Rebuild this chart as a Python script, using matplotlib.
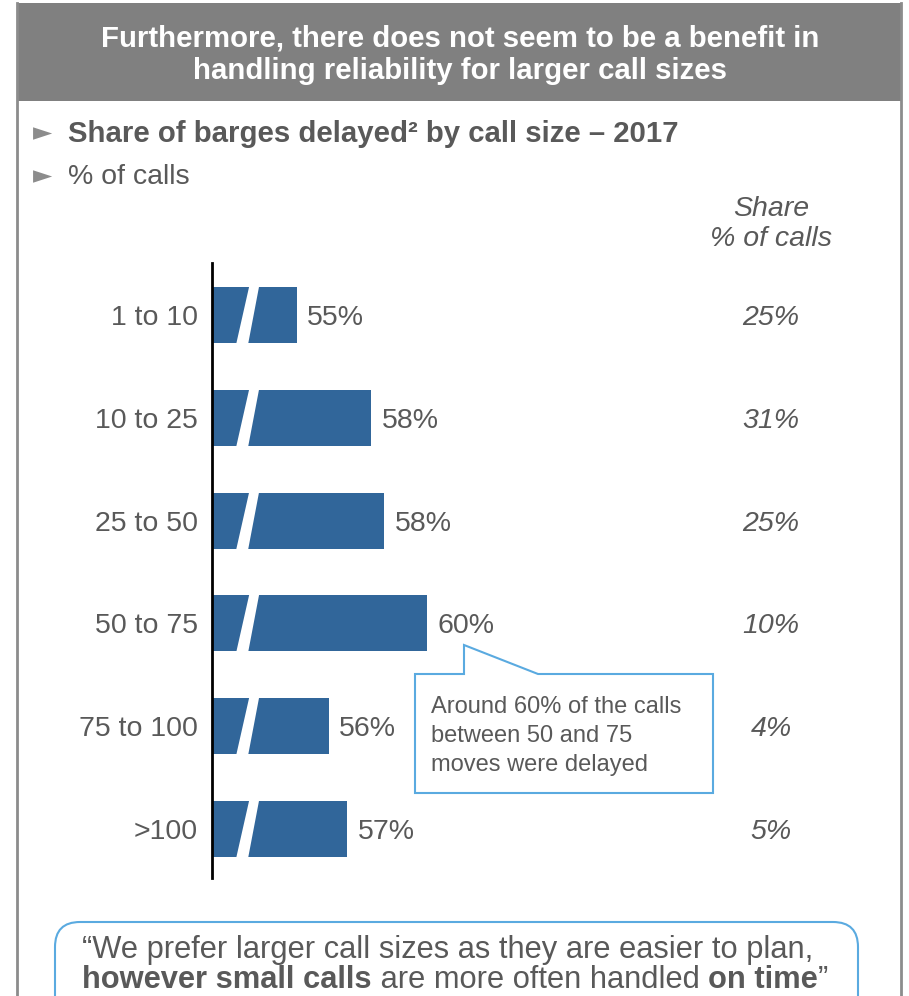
import matplotlib
matplotlib.use("Agg")
import matplotlib.pyplot as plt
from matplotlib.patches import Rectangle, Polygon, FancyBboxPatch
import numpy as np

plt.rcParams['font.family'] = ['Liberation Sans', 'DejaVu Sans']

# data
call_sizes = ['1 to 10', '10 to 25', '25 to 50', '50 to 75', '75 to 100', '>100']
delayed_pct = [55.1, 57.9, 58.4, 60.0, 56.3, 57.0]   # share of barges delayed
share_of_calls = [25, 31, 25, 10, 4, 5]               # share % of calls

GREY_TXT = '#595959'
BAR_BLUE = '#31669a'
LINE_BLUE = '#5aaae0'

W, H = 909, 996
fig = plt.figure(figsize=(W / 100, H / 100), dpi=100)

# background axes in pixel coords for the slide decoration
bg = fig.add_axes([0, 0, 1, 1])
bg.set_xlim(0, W)
bg.set_ylim(H, 0)
bg.axis('off')

# outer frame + header
bg.plot([17, 17], [3, H], color='#8c8c8c', lw=2)
bg.plot([901, 901], [3, H], color='#8c8c8c', lw=2)
bg.add_patch(Rectangle((17, 3), 885, 98, color='#808080', lw=0))
bg.text(460, 38, 'Furthermore, there does not seem to be a benefit in',
        color='white', fontsize=21.2, fontweight='bold', ha='center', va='center')
bg.text(460, 71, 'handling reliability for larger call sizes',
        color='white', fontsize=21.2, fontweight='bold', ha='center', va='center')

# bullets
bg.text(33, 133, '►', color='#8c8c8c', fontsize=18, ha='left', va='center',
        family='DejaVu Sans')
bg.text(68, 134, 'Share of barges delayed² by call size – 2017', color=GREY_TXT,
        fontsize=21.2, fontweight='bold', ha='left', va='center')
bg.text(33, 176, '►', color='#8c8c8c', fontsize=18, ha='left', va='center',
        family='DejaVu Sans')
bg.text(68, 177, '% of calls', color=GREY_TXT, fontsize=20.5, ha='left', va='center')

# share column header
bg.text(771, 209, 'Share', color=GREY_TXT, fontsize=20.5, style='italic', ha='center', va='center')
bg.text(771, 239, '% of calls', color=GREY_TXT, fontsize=20.5, style='italic', ha='center', va='center')

# bar chart
ax = fig.add_axes([212 / W, 1 - 878 / H, 500 / W, (878 - 263) / H])
x0 = 51.92
ax.set_xlim(x0, 70.71)
ax.set_ylim(5.477, -0.506)
y = np.arange(len(call_sizes))
bh = 0.545
ax.barh(y, np.array(delayed_pct) - x0, left=x0, height=bh, color=BAR_BLUE)

# axis break marks (white slanted gap)
for yi in y:
    top, bot = yi - bh / 2 - 0.02, yi + bh / 2 + 0.02
    ax.add_patch(Polygon([(53.33, top), (53.70, top), (53.27, bot), (52.82, bot)],
                         closed=True, color='white', lw=0, zorder=3))

dy = 0.03  # nudge text down a little to sit like the slide
for yi, v in zip(y, delayed_pct):
    ax.text(v + 0.4, yi + dy, f'{round(v):.0f}%', color=GREY_TXT, fontsize=20.5,
            ha='left', va='center')

for yi, s in zip(y, share_of_calls):
    ax.text((771 - 212) / 500, yi + dy, f'{s}%', transform=ax.get_yaxis_transform(),
            color=GREY_TXT, fontsize=20.5, style='italic', ha='center', va='center',
            clip_on=False)

ax.set_yticks(y)
ax.set_yticklabels([])
for yi, lab in zip(y, call_sizes):
    ax.text(-14 / 500, yi + dy, lab, transform=ax.get_yaxis_transform(),
            color=GREY_TXT, fontsize=20.5, ha='right', va='center', clip_on=False)
ax.tick_params(axis='y', length=0)
ax.set_xticks([])
for sp in ['top', 'right', 'bottom']:
    ax.spines[sp].set_visible(False)
ax.spines['left'].set_linewidth(2)
ax.spines['left'].set_color('black')
ax.patch.set_alpha(0)

# callout
bg.add_patch(Polygon([(415, 674), (464, 674), (464, 645), (538, 674), (713, 674),
                      (713, 793), (415, 793)], closed=True, facecolor='white',
                     edgecolor=LINE_BLUE, lw=1.5))
for i, line in enumerate(['Around 60% of the calls', 'between 50 and 75', 'moves were delayed']):
    bg.text(431, 707 + 29 * i, line, color=GREY_TXT, fontsize=17, ha='left', va='center')

# quote box (cut off at the bottom of the slide)
bg.add_patch(FancyBboxPatch((80, 947), 753, 100, boxstyle='round,pad=25,rounding_size=25',
                            facecolor='white', edgecolor=LINE_BLUE, lw=1.5))
bg.text(82, 950, '“We prefer larger call sizes as they are easier to plan,',
        color=GREY_TXT, fontsize=22.2, ha='left', va='center')

renderer = fig.canvas.get_renderer()
xpos = 82
parts = [('however small calls', 'bold'), (' are more often handled ', 'normal'),
         ('on time', 'bold'), ('”', 'normal')]
for txt, wt in parts:
    t = bg.text(xpos, 980, txt, color=GREY_TXT, fontsize=22.2, fontweight=wt,
                ha='left', va='center')
    bb = t.get_window_extent(renderer=renderer)
    xpos += bb.width

fig.savefig('out.png', dpi=100)
